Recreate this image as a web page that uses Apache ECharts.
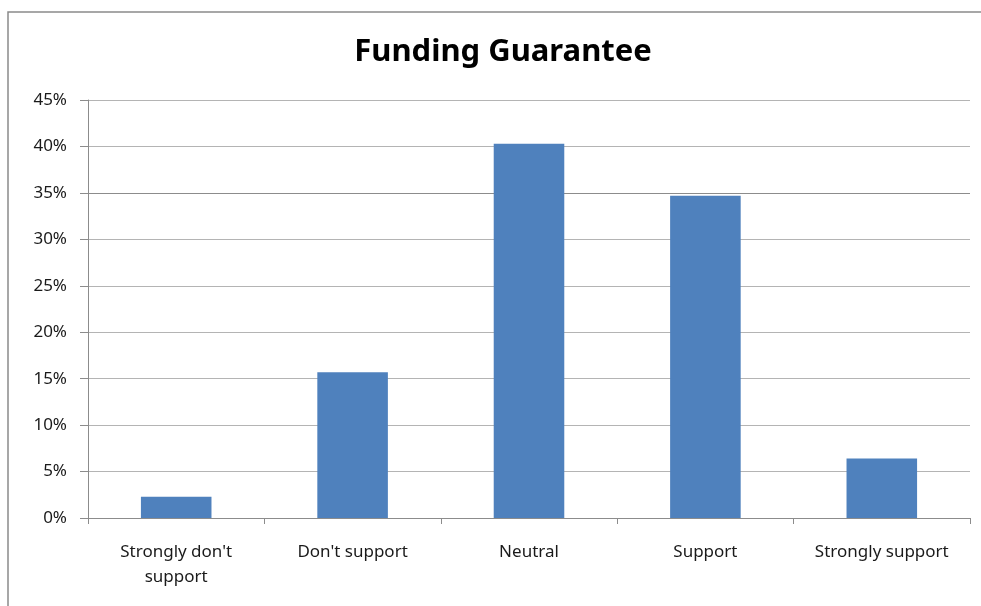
<!DOCTYPE html>
<html>
<head>
<meta charset="utf-8">
<script src="https://cdn.jsdelivr.net/npm/echarts@6/dist/echarts.min.js"></script>
<style>
  html, body { margin: 0; padding: 0; background: #fff; }
  #chart { width: 981px; height: 606px; }
</style>
</head>
<body>
<div id="chart"></div>
<script>
// Survey responses on the funding guarantee, share of respondents (%)
const categories = ["Strongly don't\nsupport", "Don't support", "Neutral", "Support", "Strongly support"];
const shares = [2.3, 15.7, 40.3, 34.7, 6.4];
const yTicks = [0, 5, 10, 15, 20, 25, 30, 35, 40, 45];

const FONT = '"Noto Sans", "Open Sans", sans-serif';

// gridline colours per tick; the 35% line is drawn a shade darker
const gridColors = yTicks.map(v => (v === 35 ? '#8c8c8c' : '#b4b4b4'));

const chart = echarts.init(document.getElementById('chart'), null, { renderer: 'canvas' });
chart.setOption({
  animation: false,
  backgroundColor: '#fff',
  graphic: [{
    type: 'rect',
    shape: { x: 8, y: 12, width: 1100, height: 700 },
    style: { fill: 'none', stroke: '#8a8a8a', lineWidth: 1.5 },
    silent: true
  }],
  title: {
    text: 'Funding Guarantee',
    left: 498,
    top: 32,
    textAlign: 'center',
    textStyle: { fontFamily: FONT, fontSize: 31, fontWeight: 'bold', color: '#000' }
  },
  grid: { left: 88, right: 11, top: 100, bottom: 88, containLabel: false },
  xAxis: {
    type: 'category',
    data: categories,
    axisLine: { lineStyle: { color: '#8c8c8c', width: 1 } },
    axisTick: { show: true, alignWithLabel: false, length: 6, lineStyle: { color: '#8c8c8c' } },
    axisLabel: {
      interval: 0,
      margin: 22,
      fontFamily: FONT,
      fontSize: 17,
      color: '#1a1a1a',
      lineHeight: 25
    }
  },
  yAxis: {
    type: 'value',
    min: 0,
    max: 45,
    interval: 5,
    axisLine: { show: true, lineStyle: { color: '#8c8c8c', width: 1 } },
    axisTick: { show: true, length: 8, lineStyle: { color: '#8c8c8c' } },
    axisLabel: {
      formatter: '{value}%',
      margin: 21,
      fontFamily: FONT,
      fontSize: 17,
      color: '#1a1a1a'
    },
    splitLine: { show: true, lineStyle: { color: gridColors, width: 1 } }
  },
  series: [{
    type: 'bar',
    data: shares,
    barWidth: '40%',
    itemStyle: { color: '#4f81bd' }
  }]
});
</script>
</body>
</html>
